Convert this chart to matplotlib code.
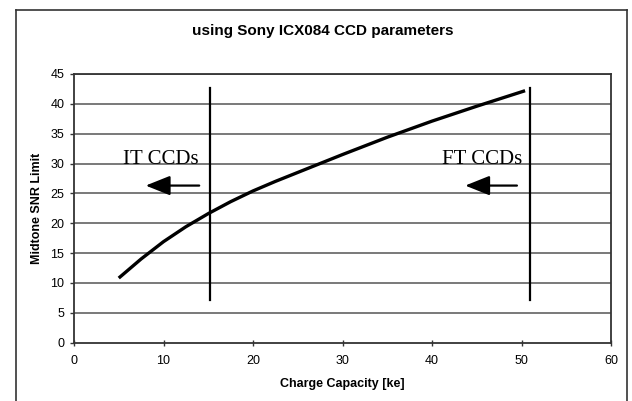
import matplotlib
matplotlib.use('Agg')
import matplotlib.pyplot as plt
from matplotlib.lines import Line2D

# values
charge_ke = [5, 7.5, 10, 12.5, 15, 17.5, 20, 22.5, 25, 27.5, 30, 35, 40, 45, 50.4]
snr_limit = [10.8, 14.0, 16.9, 19.4, 21.6, 23.6, 25.4, 27.0, 28.5, 30.0, 31.5, 34.4, 37.1, 39.6, 42.2]

it_limit_x = 15.2
ft_limit_x = 50.9
marker_y = [7.1, 42.7]

x_ticks = [0, 10, 20, 30, 40, 50, 60]
y_ticks = [0, 5, 10, 15, 20, 25, 30, 35, 40, 45]

plt.rcParams['font.family'] = ['Liberation Sans', 'DejaVu Sans']

fig = plt.figure(figsize=(6.32, 4.01), dpi=100)
ax = fig.add_axes([74 / 632, 1 - 342.5 / 401, 537 / 632, 268.5 / 401])

# outer chart frame
fig.add_artist(Line2D([16 / 632, 16 / 632], [0, 0.975], color='#333333', lw=1.2))
fig.add_artist(Line2D([16 / 632, 627 / 632], [0.975, 0.975], color='#333333', lw=1.2))
fig.add_artist(Line2D([627 / 632, 627 / 632], [0, 0.975], color='#333333', lw=1.2))

for yv in y_ticks[1:]:
    ax.axhline(yv, color='#555555', lw=1.1, zorder=1)

ax.plot(charge_ke, snr_limit, color='black', lw=2.4, solid_capstyle='butt',
        solid_joinstyle='round', zorder=3)

ax.plot([it_limit_x, it_limit_x], marker_y, color='black', lw=1.6, zorder=3)
ax.plot([ft_limit_x, ft_limit_x], marker_y, color='black', lw=1.6, zorder=3)

ax.text(9.7, 30.6, 'IT CCDs', family='Liberation Serif', fontsize=15,
        ha='center', va='center', zorder=4)
ax.text(45.6, 30.6, 'FT CCDs', family='Liberation Serif', fontsize=15,
        ha='center', va='center', zorder=4)

arrow_style = dict(arrowstyle='-|>,head_length=1.5,head_width=0.6', color='black', lw=1.6)
ax.annotate('', xy=(7.7, 26.3), xytext=(14.3, 26.3), arrowprops=arrow_style, zorder=4)
ax.annotate('', xy=(43.4, 26.3), xytext=(49.8, 26.3), arrowprops=arrow_style, zorder=4)

ax.set_xlim(0, 60)
ax.set_ylim(0, 45)
ax.set_xticks(x_ticks)
ax.set_yticks(y_ticks)
ax.tick_params(axis='both', labelsize=9, length=3, width=1, color='#333333', pad=4)
ax.tick_params(axis='x', direction='inout', length=4, pad=7)
for side in ax.spines.values():
    side.set_color('#333333')
    side.set_linewidth(1.3)

ax.set_xlabel('Charge Capacity [ke]', fontsize=9, fontweight='bold', labelpad=8)
ax.set_ylabel('Midtone SNR Limit', fontsize=9, fontweight='bold', labelpad=5)
fig.text(323 / 632, 1 - 31 / 401, 'using Sony ICX084 CCD parameters',
         fontsize=11, fontweight='bold', ha='center', va='center')

fig.savefig('out.png', dpi=100)
